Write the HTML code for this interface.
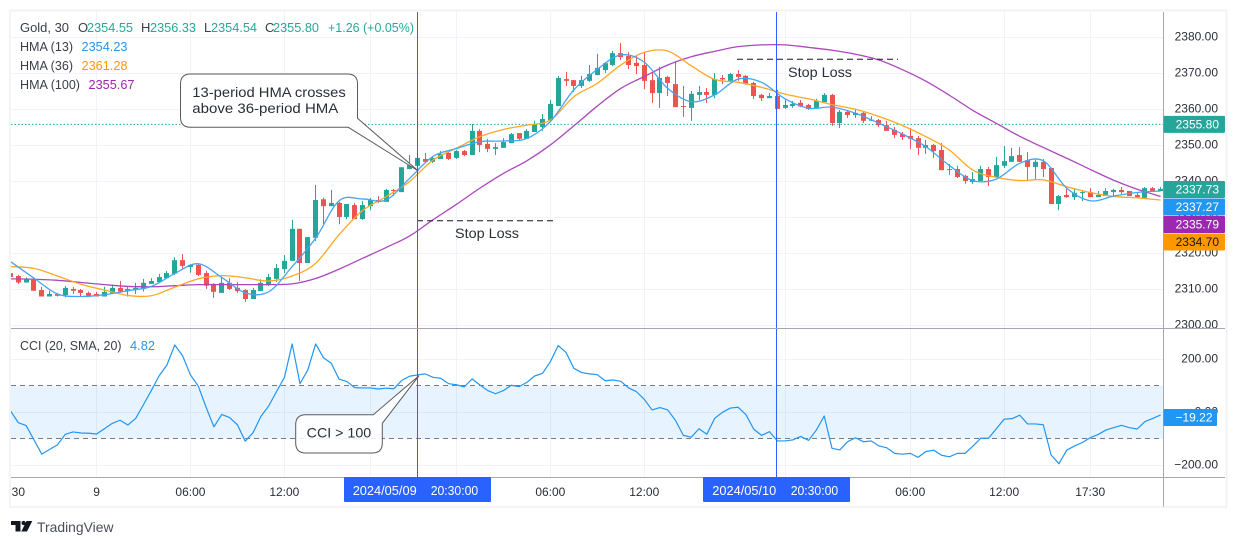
<!DOCTYPE html>
<html lang="en">
<head>
<meta charset="utf-8">
<title>Gold 30 HMA and CCI chart</title>
<style>
html,body{margin:0;padding:0;background:#fff;width:1237px;height:546px;overflow:hidden}
svg{display:block;font-family:"Liberation Sans",sans-serif}
</style>
</head>
<body>
<svg id="chart" xmlns="http://www.w3.org/2000/svg" width="1237" height="546" viewBox="0 0 1237 546">
  <defs>
    <clipPath id="main-clip"><rect x="11" y="12" width="1152.5" height="316"/></clipPath>
    <clipPath id="cci-clip"><rect x="11" y="329" width="1152.5" height="148"/></clipPath>
    <clipPath id="axis-clip"><rect x="1164" y="12" width="61" height="316"/></clipPath>
  </defs>
  <rect x="10" y="10.5" width="1216.5" height="496.5" fill="#fff" stroke="#eff1f7" stroke-width="1.6"/>
  <g id="grid"></g>
  <rect id="cci-band" x="11" width="1152.5" fill="#2196f3" fill-opacity="0.11"/>
  <g id="cci-levels"></g>
  <line id="last-price" x1="11" x2="1163" stroke="#26a69a" stroke-width="1" stroke-dasharray="1.5 2"/>
  <g id="candles" clip-path="url(#main-clip)"></g>
  <g id="hma-lines" clip-path="url(#main-clip)"></g>
  <g id="cci-plot" clip-path="url(#cci-clip)"></g>

  <g>
    <line x1="417" x2="555" y1="220.8" y2="220.8" stroke="#131722" stroke-width="1" stroke-dasharray="6 4"/>
    <text x="455" y="238" font-size="14" fill="#2a2e39" textLength="64" lengthAdjust="spacingAndGlyphs">Stop Loss</text>
  </g>
  <g>
    <line x1="737" x2="898" y1="59.3" y2="59.3" stroke="#131722" stroke-width="1" stroke-dasharray="6 4"/>
    <text x="788" y="77" font-size="14" fill="#2a2e39" textLength="64" lengthAdjust="spacingAndGlyphs">Stop Loss</text>
  </g>

  <line x1="417.5" x2="417.5" y1="12" y2="477" stroke="#2962ff" stroke-width="1"/>
  <line x1="776.5" x2="776.5" y1="12" y2="477" stroke="#2962ff" stroke-width="1"/>

  <g>
    <path d="M190.5 74H347.5Q357.5 74 357.5 84V118.3L418.3 171L348.3 127.3H190.5Q180.5 127.3 180.5 117.3V84Q180.5 74 190.5 74Z" fill="#fff" stroke="#5a5a5a" stroke-width="1"/>
    <text x="192.3" y="97" font-size="14" fill="#2a2e39" textLength="153.5" lengthAdjust="spacingAndGlyphs">13-period HMA crosses</text>
    <text x="192.3" y="113" font-size="14" fill="#2a2e39" textLength="146" lengthAdjust="spacingAndGlyphs">above 36-period HMA</text>
  </g>
  <g>
    <path d="M305.7 414.7H373.3L419 375.7L382.3 423.3V443Q382.3 453 372.3 453H305.7Q295.7 453 295.7 443V424.7Q295.7 414.7 305.7 414.7Z" fill="#fff" fill-opacity="0.86" stroke="#5a5a5a" stroke-width="1"/>
    <text x="306.7" y="437.7" font-size="14" fill="#2a2e39" textLength="64.5" lengthAdjust="spacingAndGlyphs">CCI &gt; 100</text>
  </g>

  <line x1="11" x2="1225" y1="328.5" y2="328.5" stroke="#a5a8b1" stroke-width="1"/>
  <line x1="11" x2="1225" y1="477.5" y2="477.5" stroke="#a5a8b1" stroke-width="1"/>
  <line x1="1163.5" x2="1163.5" y1="12" y2="506.5" stroke="#a5a8b1" stroke-width="1"/>

  <g id="price-ticks" clip-path="url(#axis-clip)"></g>
  <g id="cci-ticks"></g>
  <g id="time-ticks"></g>
  <g id="price-boxes"></g>

  <g>
    <rect x="1163.5" y="409" width="53.5" height="17" rx="1" fill="#2196f3"/>
    <text x="1212.5" y="421.5" font-size="12" fill="#fff" text-anchor="end">−19.22</text>
  </g>

  <g>
    <rect x="344" y="477" width="147" height="25" rx="1" fill="#2962ff"/>
    <text x="352.7" y="495" font-size="13" fill="#fff" textLength="64" lengthAdjust="spacingAndGlyphs">2024/05/09</text>
    <text x="430.7" y="495" font-size="13" fill="#fff" textLength="47.5" lengthAdjust="spacingAndGlyphs">20:30:00</text>
  </g>
  <g>
    <rect x="703" y="477" width="147" height="25" rx="1" fill="#2962ff"/>
    <text x="712.3" y="495" font-size="13" fill="#fff" textLength="64" lengthAdjust="spacingAndGlyphs">2024/05/10</text>
    <text x="790.7" y="495" font-size="13" fill="#fff" textLength="47.5" lengthAdjust="spacingAndGlyphs">20:30:00</text>
  </g>

  <g font-size="13">
    <text x="20" y="32" fill="#3a3e49" textLength="49" lengthAdjust="spacingAndGlyphs">Gold, 30</text>
    <text x="78" y="32" fill="#3a3e49">O</text>
    <text x="87" y="32" fill="#26a69a" textLength="46" lengthAdjust="spacingAndGlyphs">2354.55</text>
    <text x="141" y="32" fill="#3a3e49">H</text>
    <text x="150" y="32" fill="#26a69a" textLength="46" lengthAdjust="spacingAndGlyphs">2356.33</text>
    <text x="204" y="32" fill="#3a3e49">L</text>
    <text x="211" y="32" fill="#26a69a" textLength="46" lengthAdjust="spacingAndGlyphs">2354.54</text>
    <text x="265" y="32" fill="#3a3e49">C</text>
    <text x="273" y="32" fill="#26a69a" textLength="46" lengthAdjust="spacingAndGlyphs">2355.80</text>
    <text x="328" y="32" fill="#26a69a" textLength="86" lengthAdjust="spacingAndGlyphs">+1.26 (+0.05%)</text>
    <text x="20" y="51" fill="#3a3e49" textLength="53" lengthAdjust="spacingAndGlyphs">HMA (13)</text>
    <text x="81.5" y="51" fill="#2196f3" textLength="46" lengthAdjust="spacingAndGlyphs">2354.23</text>
    <text x="20" y="70" fill="#3a3e49" textLength="53" lengthAdjust="spacingAndGlyphs">HMA (36)</text>
    <text x="81.5" y="70" fill="#ff9800" textLength="46" lengthAdjust="spacingAndGlyphs">2361.28</text>
    <text x="20" y="89" fill="#3a3e49" textLength="60" lengthAdjust="spacingAndGlyphs">HMA (100)</text>
    <text x="88.5" y="89" fill="#9c27b0" textLength="46" lengthAdjust="spacingAndGlyphs">2355.67</text>
  </g>
  <g font-size="13">
    <text x="20" y="350" fill="#3a3e49" textLength="101.5" lengthAdjust="spacingAndGlyphs">CCI (20, SMA, 20)</text>
    <text x="130" y="350" fill="#2196f3" textLength="25" lengthAdjust="spacingAndGlyphs">4.82</text>
  </g>

  <g>
    <path fill="#131722" d="M11 521H20.5V531.5H15.5V525H11ZM26.5 521H32.3L27 531.5H21.3Z"/>
    <circle cx="23.6" cy="523" r="2.1" fill="#131722"/>
    <text x="37" y="532" font-size="14" fill="#4a4e5a" textLength="76.5" lengthAdjust="spacingAndGlyphs">TradingView</text>
  </g>
</svg>
<script>
const opens = [
2314.5,2313.7,2311.9,2312.6,2309.8,2308,2308.7,2308.4,2310.1,2309.8,
2309,2308.7,2308,2308.9,2310.4,2309.6,2309.8,2310.1,2311.5,2312,
2313.1,2314.3,2318.1,2316.2,2316.8,2314.5,2311.3,2309,2311.8,2310.4,
2309.8,2307.3,2309.5,2311.2,2312.9,2315.6,2317.9,2326.8,2317.3,2324.3,
2335,2333.1,2334,2330.1,2333.4,2329.5,2333.1,2334.8,2334.3,2337.6,
2337,2343.4,2344.3,2346.2,2345.4,2346.2,2347.9,2346.5,2348.4,2347.3,
2354,2350.4,2349,2349.3,2350.6,2353.4,2351.8,2353.7,2355.1,2357,
2360.9,2368.4,2368.1,2366.5,2367.9,2369.5,2370.9,2372.3,2375.6,2374.8,
2372.9,2372.3,2368.1,2364.5,2369,2367,2360.9,2360.4,2364,2364.8,
2364,2368.7,2367.9,2369.8,2369.3,2367.3,2364,2363.1,2363.7,2360.4,
2360.9,2361.8,2361.2,2360.4,2362,2364,2356.2,2359.3,2358.4,2359,
2356.9,2357,2355.6,2354.3,2353.1,2352.6,2352,2349.3,2350.1,2348.7,
2343.4,2343.4,2341.5,2339.8,2340.1,2343.4,2341.2,2344.3,2345.4,2347.3,
2345.9,2344,2345.4,2343.7,2333.7,2336.2,2335.6,2336.8,2337,2335.6,
2335.9,2337,2337.6,2337.3,2336.2,2335.4,2338.1,2337.3];
const highs = [
2314.5,2314,2313.3,2313,2310.7,2309.6,2308.9,2310.9,2310.6,2310.1,
2309.4,2309.3,2310.7,2311.3,2312.3,2310.6,2311.8,2312.9,2313.1,2314.3,
2315.1,2318.9,2319.8,2317,2317,2315.1,2311.7,2313.4,2313.1,2312,
2310,2310.4,2312.8,2314.3,2317,2319.5,2329.3,2326.8,2324.5,2339,
2335.4,2337.6,2334.3,2333.7,2334,2334.5,2335.4,2335.9,2337.9,2337.9,
2343.9,2347.3,2347.3,2347.9,2347,2348.4,2348.1,2348.7,2348.7,2355.9,
2354.5,2351.8,2350.6,2352,2353.4,2353.4,2354.5,2356.8,2358.7,2362.6,
2369.3,2370.4,2368.1,2369.3,2372.3,2375.4,2373.1,2376.2,2378.4,2375.9,
2375.1,2375.9,2370.1,2371.8,2369.3,2373.4,2366.5,2365.1,2366.5,2365.9,
2370.1,2369.5,2370.1,2370.9,2369.5,2367.6,2364.3,2364.5,2365.4,2362.9,
2362.3,2362.6,2361.5,2362.9,2364.5,2364.3,2359.8,2359.8,2360.1,2359.3,
2358.1,2357.3,2356.8,2355.1,2353.7,2354.8,2352.6,2351.5,2350.4,2350.6,
2344.8,2344.3,2341.8,2342.6,2344.3,2344,2346.8,2349.8,2349.3,2349.5,
2348.1,2346.2,2346.2,2343.7,2336.2,2337.9,2337.9,2337.3,2338.1,2337.3,
2338.1,2337.9,2338.4,2337.3,2336.8,2338.4,2338.4,2338.4];
const lows = [
2313.2,2311.5,2311.8,2309.6,2308,2308,2308,2307.8,2308.7,2308,
2308,2308,2308,2308.7,2309,2308,2308.7,2309.4,2311.5,2311.7,
2312.9,2314,2315.6,2314.6,2313.7,2310.1,2307.6,2309,2309.8,2309,
2306.5,2307.3,2309.5,2310.9,2312,2314.5,2317.9,2312.3,2317.3,2323.4,
2328.1,2333.1,2328.1,2329.5,2329.5,2329.3,2332,2334,2334.3,2335.9,
2337,2343.4,2344,2345.4,2345.1,2346.2,2345.9,2346.2,2347,2347.3,
2348.1,2348.1,2347.3,2349.3,2350.6,2351.2,2351.8,2353.7,2354,2356.8,
2360.9,2366.5,2364.8,2365.9,2367.6,2369.5,2370.1,2372,2373.7,2371.2,
2369.8,2365.6,2361.8,2360.4,2363.7,2360.6,2357.9,2356.8,2362.6,2361.8,
2363.1,2367,2367.9,2367.9,2366.8,2362.9,2362.3,2363.1,2360.1,2360.1,
2360.4,2360.6,2359.8,2360.4,2361.8,2355.4,2354.8,2357.6,2357.6,2356.2,
2356.8,2355.1,2354,2352,2351.5,2349,2347.3,2347.6,2346.5,2343.1,
2341.8,2340.9,2339.3,2339.3,2340.1,2338.7,2340.9,2343.7,2345.4,2345.4,
2340.4,2340.4,2341.2,2333.7,2332,2335.4,2334.8,2334.5,2335.6,2335.6,
2335.9,2335.9,2336.5,2335.9,2335.4,2335.4,2337,2337.3];
const closes = [
2313.4,2311.9,2312.7,2309.6,2308,2308.7,2308.2,2310.4,2309.6,2309,
2308.2,2308,2309.3,2310.4,2309.4,2310.1,2310.4,2311.8,2312.3,2313.4,
2314.5,2318.1,2316.5,2316.8,2314,2311,2309.3,2311.8,2310.1,2309.5,
2307.3,2309.8,2311.8,2313.4,2315.9,2317.9,2326.8,2317.3,2324.5,2334.8,
2333.1,2334,2330.1,2333.7,2329.5,2333.4,2334.8,2334.3,2337.6,2337.3,
2343.9,2344.5,2346.5,2345.4,2346.5,2347.6,2346.2,2348.4,2347.3,2354,
2350.1,2349,2349.5,2350.9,2353.1,2351.8,2354,2355.9,2357.3,2361.5,
2368.7,2367.9,2366.5,2368.1,2369.8,2371.5,2372.8,2375.6,2374.5,2372.3,
2372,2367.9,2364.5,2368.7,2367.3,2360.6,2360.7,2364.3,2364.8,2364,
2368.4,2368.3,2369.8,2369,2367,2363.7,2363.1,2363.7,2360.1,2361.2,
2361.5,2360.8,2360.1,2362.3,2364,2356.2,2359.3,2358.4,2359,2356.8,
2357.1,2355.6,2354,2352.9,2352.3,2351.8,2349.3,2350.1,2348.4,2343.1,
2343.2,2341.2,2340.1,2340.6,2343.4,2341.2,2344.5,2345.6,2347,2345.4,
2344,2345.4,2343.4,2333.7,2335.9,2335.6,2336.8,2337,2335.6,2336.2,
2337.3,2337.6,2337,2335.9,2335.6,2338.1,2337.3,2337.9];
const hmaEveryBars = 3;
const hma13 = [
2317.7,2313.1,2308.7,2308,2308.5,2309.6,2310.8,2314.4,2317.1,2313.3,
2309,2309.3,2316.3,2324.2,2334.6,2335.1,2334.8,2340.8,2346.9,2349.1,
2351,2351.2,2351.9,2356.6,2365.4,2371.1,2375.1,2373.1,2365.8,2362.1,
2364,2368.4,2367.5,2362.9,2360.3,2360.6,2358.9,2356.1,2353.1,2349.6,
2344.4,2340.2,2340.6,2345,2345.7,2338.1,2334.6,2335.9,2336.9,2337.3];
const hma36 = [
2316.3,2315.8,2313.7,2311.4,2309.8,2308.3,2308.2,2310.6,2312.9,2313.8,
2313.2,2312.3,2313.7,2317.2,2325.2,2331.9,2335.7,2339.9,2345.9,2349.2,
2352.4,2354.4,2355.6,2357,2363.5,2367.2,2372.3,2375.8,2376.2,2372.1,
2368.3,2367.5,2366.1,2364.2,2362.9,2361.3,2360,2358,2355.5,2352.4,
2348.7,2343.1,2341.1,2340.2,2340.4,2338.5,2336.9,2335.8,2335.4,2334.8];
const hma100 = [
2312.9,2312.8,2312.5,2311.9,2311.3,2310.8,2310.7,2311,2311.3,2311.3,
2311.3,2311.3,2311.5,2313,2315.6,2318.6,2321.6,2324.8,2329.3,2333.6,
2338.1,2342.2,2345.7,2350.1,2355.4,2360.9,2365.8,2369.1,2372.3,2374.6,
2376.1,2377.4,2377.9,2377.9,2377.2,2376.4,2375.3,2373.7,2371,2367.8,
2363.9,2359.7,2356.1,2352.5,2349.4,2346.4,2343.3,2340.3,2337.8,2335.8];
const cciValues = [
5,-39,-50,-104,-158,-140,-123,-83,-74,-78,
-79,-82,-62,-42,-30,-48,-23,29,82,138,
179,254,213,141,99,19,-55,-8,-20,-47,
-109,-77,-16,24,78,131,258,108,160,258,
206,185,125,116,93,92,92,88,91,89,
120,136,141,145,132,128,108,104,96,126,
103,82,70,82,102,97,113,137,147,191,
252,226,166,150,145,142,119,122,117,92,
78,49,9,18,9,-31,-87,-94,-62,-83,
-23,0,16,19,-9,-64,-87,-73,-108,-108,
-104,-91,-106,-67,-14,-136,-142,-111,-96,-111,
-108,-127,-134,-155,-158,-155,-170,-148,-143,-162,
-168,-155,-155,-128,-98,-98,-62,-26,-24,-11,
-44,-44,-47,-161,-194,-143,-127,-114,-96,-84,
-67,-58,-49,-58,-63,-35,-23,-10];
const priceTicks = [2380,2370,2360,2350,2340,2330,2320,2310,2300];
const cciTicks = [200,0,-200];
const cciBandLevels = [100,-100];
const timeTickBars = [1,11,23,35,46,57,69,81,99,115,127,138];
const timeTickLabels = ['30','9','06:00','12:00','','','06:00','12:00','','06:00','12:00','17:30'];
const lastPrice = 2355.80;
const axisValues = [2355.80,2337.73,2337.27,2335.79,2334.70];
const axisValueFills = ['#26a69a','#26a69a','#2196f3','#9c27b0','#ff9800'];
const axisValueInks = ['#fff','#fff','#fff','#fff','#131722'];

const NS = 'http://www.w3.org/2000/svg';
function xBar(i){ return 10.5 + 7.824 * i; }
function yPrice(p){ return 325.3 - (p - 2300) * 3.6; }
function yCci(v){ return 412.3 - v * 0.265; }
function mk(tag, attrs, parent){
  const el = document.createElementNS(NS, tag);
  for (const k in attrs) el.setAttribute(k, attrs[k]);
  parent.appendChild(el);
  return el;
}
function smoothPath(values, step, yFn){
  const pts = values.map((v, k) => [xBar(k * step), yFn(v)]);
  let d = 'M' + pts[0][0].toFixed(2) + ' ' + pts[0][1].toFixed(2);
  for (let k = 0; k < pts.length - 1; k++){
    const p0 = pts[Math.max(k - 1, 0)], p1 = pts[k], p2 = pts[k + 1], p3 = pts[Math.min(k + 2, pts.length - 1)];
    const c1x = p1[0] + (p2[0] - p0[0]) / 6, c1y = p1[1] + (p2[1] - p0[1]) / 6;
    const c2x = p2[0] - (p3[0] - p1[0]) / 6, c2y = p2[1] - (p3[1] - p1[1]) / 6;
    d += 'C' + c1x.toFixed(2) + ' ' + c1y.toFixed(2) + ' ' + c2x.toFixed(2) + ' ' + c2y.toFixed(2) + ' ' + p2[0].toFixed(2) + ' ' + p2[1].toFixed(2);
  }
  return d;
}

const gridG = document.getElementById('grid');
priceTicks.forEach(p => {
  const y = Math.floor(yPrice(p)) + 0.5;
  const line = mk('line', {x1: 11, x2: 1163, y1: y, y2: y, stroke: '#f0f3fa', 'stroke-width': 1}, gridG);
  
  
});
cciTicks.forEach(v => {
  const y = Math.floor(yCci(v)) + 0.5;
  const line = mk('line', {x1: 11, x2: 1163, y1: y, y2: y, stroke: '#f0f3fa', 'stroke-width': 1}, gridG);
  
  
});
timeTickBars.forEach((b, k) => {
  if (k === 0) return;
  const x = Math.floor(xBar(b)) + 0.5;
  const line = mk('line', {x1: x, x2: x, y1: 12, y2: 477, stroke: '#f0f3fa', 'stroke-width': 1}, gridG);
  
  
});

const band = document.getElementById('cci-band');
band.setAttribute('y', yCci(cciBandLevels[0]));
band.setAttribute('height', yCci(cciBandLevels[1]) - yCci(cciBandLevels[0]));
const levelsG = document.getElementById('cci-levels');
cciBandLevels.forEach(v => {
  const y = Math.floor(yCci(v)) + 0.5;
  const line = mk('line', {x1: 11, x2: 1163, y1: y, y2: y, stroke: '#787b86', 'stroke-width': 1, 'stroke-dasharray': '5 4'}, levelsG);
  
  
});

const lastLine = document.getElementById('last-price');
lastLine.setAttribute('y1', yPrice(lastPrice));
lastLine.setAttribute('y2', yPrice(lastPrice));

const candlesG = document.getElementById('candles');
opens.forEach((o, i) => {
  const c = closes[i];
  const color = c >= o ? '#26a69a' : '#ef5350';
  const cx = Math.floor(xBar(i));
  const wick = mk('rect', {x: cx, y: yPrice(highs[i]), width: 1, height: Math.max(1, yPrice(lows[i]) - yPrice(highs[i])), fill: color}, candlesG);
  
  
  const top = yPrice(Math.max(o, c));
  const body = mk('rect', {x: cx - 2, y: top, width: 5, height: Math.max(1, yPrice(Math.min(o, c)) - top), fill: color}, candlesG);
  
  
});

const hmaG = document.getElementById('hma-lines');
const hmaLine100 = mk('path', {d: smoothPath(hma100, hmaEveryBars, yPrice), fill: 'none', stroke: '#ab47bc', 'stroke-width': 1.3}, hmaG);


const hmaLine36 = mk('path', {d: smoothPath(hma36, hmaEveryBars, yPrice), fill: 'none', stroke: '#ffa726', 'stroke-width': 1.3}, hmaG);


const hmaLine13 = mk('path', {d: smoothPath(hma13, hmaEveryBars, yPrice), fill: 'none', stroke: '#42a5f5', 'stroke-width': 1.3}, hmaG);



const cciD = cciValues.map((v, i) => (i ? 'L' : 'M') + xBar(i).toFixed(2) + ' ' + yCci(v).toFixed(2)).join('');
const cciLine = mk('path', {d: cciD, fill: 'none', stroke: '#2196f3', 'stroke-width': 1.2, 'stroke-linejoin': 'round'}, document.getElementById('cci-plot'));



const priceTicksG = document.getElementById('price-ticks');
priceTicks.forEach(p => {
  const t = mk('text', {x: 1218, y: yPrice(p) + 3.4, 'font-size': 12, fill: '#2a2e39', 'text-anchor': 'end'}, priceTicksG);
  t.textContent = p.toFixed(2);
  
  
});
const cciTicksG = document.getElementById('cci-ticks');
cciTicks.forEach(v => {
  const t = mk('text', {x: 1218, y: yCci(v) + 3.4, 'font-size': 12, fill: '#2a2e39', 'text-anchor': 'end'}, cciTicksG);
  t.textContent = (v < 0 ? '\u2212' : '') + Math.abs(v).toFixed(2);
  
  
});
const timeTicksG = document.getElementById('time-ticks');
timeTickBars.forEach((b, k) => {
  if (!timeTickLabels[k]) return;
  const t = mk('text', {x: xBar(b), y: 496, 'font-size': 12, fill: '#2a2e39', 'text-anchor': 'middle'}, timeTicksG);
  t.textContent = timeTickLabels[k];
  
  
});

const boxesG = document.getElementById('price-boxes');
let boxBottom = -Infinity;
axisValues.forEach((v, k) => {
  const top = Math.max(yPrice(v) - 8.5, boxBottom + 0.5);
  boxBottom = top + 17;
  const r = mk('rect', {x: 1163.5, y: top, width: 61.5, height: 17, rx: 1, fill: axisValueFills[k]}, boxesG);
  
  
  const t = mk('text', {x: 1219, y: top + 12.6, 'font-size': 12, fill: axisValueInks[k], 'text-anchor': 'end'}, boxesG);
  t.textContent = v.toFixed(2);
  
  
});
</script>
</body>
</html>
